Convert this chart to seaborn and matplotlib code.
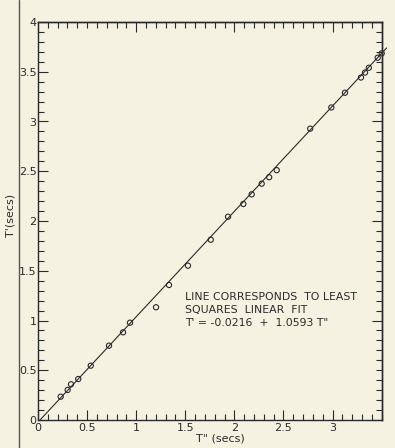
import numpy as np
import pandas as pd
import matplotlib
matplotlib.use("Agg")
import matplotlib.pyplot as plt
from matplotlib.ticker import MultipleLocator, NullFormatter
from matplotlib.lines import Line2D
import seaborn as sns

# ---- data ----
t2 = [0.231, 0.302, 0.336, 0.410, 0.537, 0.723, 0.866, 0.937, 1.202, 1.334,
      1.527, 1.759, 1.935, 2.091, 2.176, 2.278, 2.354, 2.431, 2.772, 2.987,
      3.126, 3.289, 3.330, 3.369, 3.459, 3.500]
t1 = [0.234, 0.302, 0.359, 0.412, 0.546, 0.747, 0.881, 0.978, 1.133, 1.357,
      1.551, 1.812, 2.043, 2.171, 2.268, 2.375, 2.440, 2.511, 2.928, 3.141,
      3.289, 3.442, 3.492, 3.540, 3.641, 3.685]
fit_intercept = -0.0216
fit_slope = 1.0593
fit_range = [0.02, 3.55]
x_ticks = [0, 0.5, 1, 1.5, 2, 2.5, 3]
x_ticklabels = ["0", "0.5", "1", "1.5", "2", "2.5", "3"]
y_ticks = [0, 0.5, 1, 1.5, 2, 2.5, 3, 3.5, 4]
y_ticklabels = ["0", "0.5", "1", "1.5", "2", "2.5", "3", "3.5", "4"]
note_lines = ["LINE CORRESPONDS  TO LEAST",
              "SQUARES  LINEAR  FIT",
              "T' = -0.0216  +  1.0593 T\""]

df = pd.DataFrame({"T2": t2, "T1": t1})
fx = np.array(fit_range)
fit_df = pd.DataFrame({"T2": fx, "T1": fit_intercept + fit_slope * fx})

sns.set_style("ticks")
plt.rcParams["font.family"] = ["DejaVu Sans"]

BG = "#f5f2e2"
INK = "#2a2a2a"

fig = plt.figure(figsize=(3.95, 4.48), dpi=100, facecolor=BG)
ax = fig.add_axes([38 / 395, (448 - 420) / 448, (381.7 - 38) / 395, (420 - 22) / 448])
ax.set_facecolor(BG)

sns.lineplot(data=fit_df, x="T2", y="T1", ax=ax, color=INK, linewidth=0.8,
             clip_on=False)
sns.scatterplot(data=df, x="T2", y="T1", ax=ax, marker="o", s=14,
                facecolor="none", edgecolor=INK, linewidth=0.8, clip_on=False,
                zorder=3)

ax.set_xlim(0, 3.5)
ax.set_ylim(0, 4)

ax.set_xticks(x_ticks)
ax.set_xticklabels(x_ticklabels)
ax.set_yticks(y_ticks)
ax.set_yticklabels(y_ticklabels)
ax.xaxis.set_minor_locator(MultipleLocator(0.1))
ax.yaxis.set_minor_locator(MultipleLocator(0.1))
ax.tick_params(which="major", direction="in", length=7, width=0.8, colors=INK,
               labelsize=8, pad=2)
ax.tick_params(which="minor", direction="in", length=4, width=0.8, colors=INK)
ax.tick_params(axis="y", which="major", pad=1)

for sp in ax.spines.values():
    sp.set_visible(True)
    sp.set_linewidth(1.0)
    sp.set_color(INK)

# top / right ticks: majors only at integers
secx = ax.secondary_xaxis("top")
secx.xaxis.set_major_locator(MultipleLocator(1))
secx.xaxis.set_minor_locator(MultipleLocator(0.1))
secx.xaxis.set_major_formatter(NullFormatter())
secx.tick_params(which="major", direction="in", length=7, width=0.8, colors=INK)
secx.tick_params(which="minor", direction="in", length=4, width=0.8, colors=INK)
secx.spines["top"].set_linewidth(1.0)

secy = ax.secondary_yaxis("right")
secy.yaxis.set_major_locator(MultipleLocator(1))
secy.yaxis.set_minor_locator(MultipleLocator(0.1))
secy.yaxis.set_major_formatter(NullFormatter())
secy.tick_params(which="major", direction="in", length=7, width=0.8, colors=INK)
secy.tick_params(which="minor", direction="in", length=4, width=0.8, colors=INK)
secy.spines["right"].set_linewidth(1.0)

ax.set_xlabel('T" (secs)', fontsize=8, color=INK)
ax.set_ylabel("T'(secs)", fontsize=8, color=INK)
ax.xaxis.set_label_coords((220 - 38) / 343.7, -0.035)
ax.yaxis.set_label_coords(-(38 - 15) / 343.7, (420 - 215) / 398)

for i, line in enumerate(note_lines):
    ax.text(1.50, 1.236 - i * 0.132, line, fontsize=7.8, color=INK,
            ha="left", va="center")

# scanned page border on the left
fig.add_artist(Line2D([19 / 395, 19 / 395], [0, 1], color="#555555",
                      linewidth=1.0, transform=fig.transFigure))

fig.savefig("out.png", dpi=100, facecolor=BG)
